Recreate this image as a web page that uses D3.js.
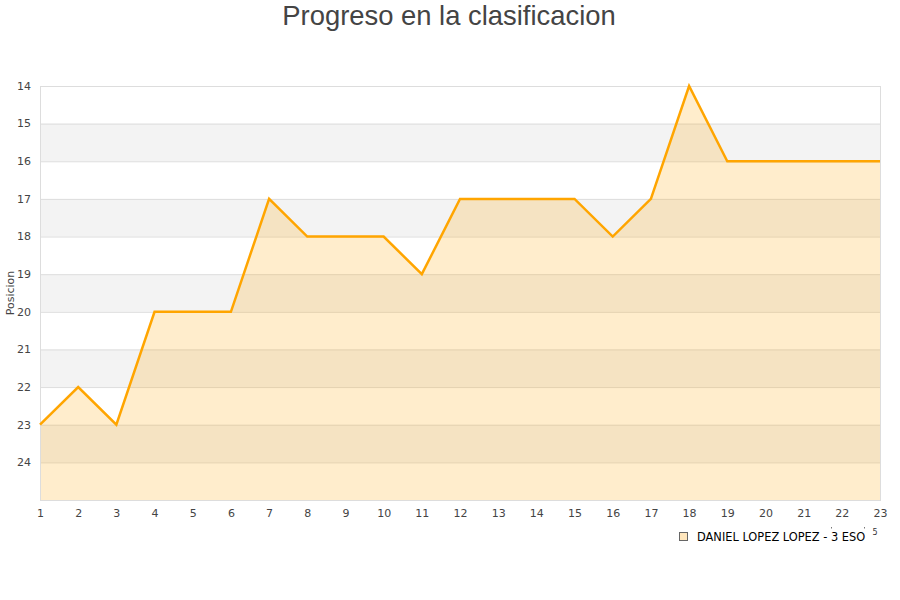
<!DOCTYPE html>
<html>
<head>
<meta charset="utf-8">
<script src="https://cdn.jsdelivr.net/npm/d3@7"></script>
<style>
  body { margin: 0; background: #fff; }
  #chart { width: 900px; height: 600px; }
  text { font-family: "DejaVu Sans", sans-serif; }
</style>
</head>
<body>
<div id="chart"></div>
<script>
// Jornadas and posicion for the one player
const jornadas = [1, 2, 3, 4, 5, 6, 7, 8, 9, 10, 11, 12, 13, 14, 15, 16, 17, 18, 19, 20, 21, 22, 23];
const posiciones = [23, 22, 23, 20, 20, 20, 17, 18, 18, 18, 19, 17, 17, 17, 17, 18, 17, 14, 16, 16, 16, 16, 16];
const yTicks = [14, 15, 16, 17, 18, 19, 20, 21, 22, 23, 24];
const seriesName = 'DANIEL LOPEZ LOPEZ - 3 ESO';
const titleText = 'Progreso en la clasificacion';

const width = 900, height = 600;
const margin = { top: 86, right: 20, bottom: 100, left: 40 };
const innerW = width - margin.left - margin.right;
const innerH = height - margin.top - margin.bottom;

const svg = d3.select('#chart').append('svg')
  .attr('width', width)
  .attr('height', height);

const x = d3.scaleLinear().domain([1, 23]).range([0, innerW]);
const y = d3.scaleLinear().domain([14, 25]).range([0, innerH]); // reversed: best position on top

// title
svg.append('text')
  .attr('x', 449).attr('y', 25)
  .attr('text-anchor', 'middle')
  .style('font-family', '"Liberation Sans", Arial, sans-serif')
  .style('font-size', '27.4px')
  .attr('fill', '#444')
  .text(titleText);

const g = svg.append('g').attr('transform', `translate(${margin.left},${margin.top})`);

// grey bands every other unit
g.selectAll('rect.band')
  .data(yTicks.filter(t => t % 2 === 1))
  .enter().append('rect')
  .attr('class', 'band')
  .attr('x', 0).attr('width', innerW)
  .attr('y', d => y(d)).attr('height', d => y(d + 1) - y(d))
  .attr('fill', '#f3f3f3');

// gridlines
g.selectAll('line.grid')
  .data(yTicks)
  .enter().append('line')
  .attr('class', 'grid')
  .attr('x1', 0).attr('x2', innerW)
  .attr('y1', d => y(d) + 0.5).attr('y2', d => y(d) + 0.5)
  .attr('stroke', '#dddddd');

// area + line
const area = d3.area()
  .x((d, i) => x(jornadas[i]))
  .y0(y(25))
  .y1(d => y(d));

const line = d3.line()
  .x((d, i) => x(jornadas[i]))
  .y(d => y(d));

g.append('path')
  .datum(posiciones)
  .attr('d', area)
  .attr('fill', '#ffa500')
  .attr('fill-opacity', 0.2);

// plot frame
g.append('rect')
  .attr('x', 0.5).attr('y', 0.5)
  .attr('width', innerW).attr('height', innerH)
  .attr('fill', 'none')
  .attr('stroke', '#dddddd');

g.append('path')
  .datum(posiciones)
  .attr('d', line)
  .attr('fill', 'none')
  .attr('stroke', '#ffa500')
  .attr('stroke-width', 2.5)
  .attr('stroke-linejoin', 'miter');

// y axis
const yAxis = g.append('g')
  .call(d3.axisLeft(y).tickValues(yTicks).tickSize(0).tickPadding(9));
yAxis.select('.domain').remove();
yAxis.selectAll('text').style('font-size', '11px').attr('fill', '#444').attr('dy', '0.3em');

// x axis
const xAxis = g.append('g')
  .attr('transform', `translate(0,${innerH})`)
  .call(d3.axisBottom(x).tickValues(jornadas).tickFormat(d3.format('d')).tickSize(0).tickPadding(9));
xAxis.select('.domain').remove();
xAxis.selectAll('text').style('font-size', '11px').attr('fill', '#444');

// y label
svg.append('text')
  .attr('transform', 'translate(14,293) rotate(-90)')
  .attr('text-anchor', 'middle')
  .style('font-size', '11px')
  .attr('fill', '#444')
  .text('Posicion');

// legend
const legend = svg.append('g').attr('transform', 'translate(679,532)');
legend.append('rect')
  .attr('x', 0.5).attr('y', 0.5)
  .attr('width', 8).attr('height', 8)
  .attr('fill', '#ffe6bc')
  .attr('stroke', '#666');
legend.append('text')
  .attr('x', 18).attr('y', 9)
  .style('font-size', '11.4px')
  .attr('fill', '#000')
  .text(seriesName);

// stray marks next to the legend
svg.append('text').attr('x', 875).attr('y', 535)
  .attr('text-anchor', 'middle')
  .style('font-size', '8px').attr('fill', '#333').text('5');
svg.selectAll('rect.speck')
  .data([831, 864])
  .enter().append('rect')
  .attr('class', 'speck')
  .attr('x', d => d).attr('y', 527)
  .attr('width', 1).attr('height', 1.5)
  .attr('fill', '#777');
</script>
</body>
</html>
